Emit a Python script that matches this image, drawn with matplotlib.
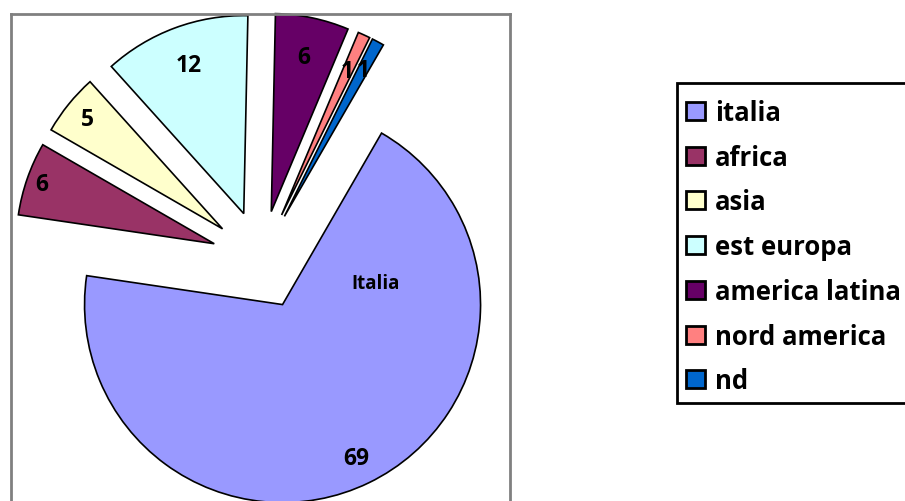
import numpy as np
import matplotlib.pyplot as plt
from matplotlib.patches import Patch, Rectangle

plt.rcParams['font.family'] = ['Open Sans', 'DejaVu Sans']

regions = ['italia', 'africa', 'asia', 'est europa', 'america latina', 'nord america', 'nd']
counts = [69, 6, 5, 12, 6, 1, 1]
colors = ['#9999FF', '#993366', '#FFFFCC', '#CCFFFF', '#660066', '#FF8080', '#0066CC']

# radial position of each value label (fraction of radius)
label_r = [0.86, 0.92, 0.88, 0.80, 0.80, 0.80, 0.84]

total = sum(counts)

fig = plt.figure(figsize=(9.05, 5.02), dpi=100)
W, H = 905, 502

# plot area with the grey frame (bottom runs off the canvas)
ax = fig.add_axes([11 / W, -2 / H, 499 / W, 489 / H])

wedges, _, autotexts = ax.pie(
    counts, colors=colors, startangle=60, counterclock=False,
    explode=[0.25] * len(counts), radius=1.0,
    autopct=lambda p: f'{p * total / 100:.0f}', pctdistance=0.85,
    wedgeprops=dict(edgecolor='black', linewidth=1.2),
    textprops=dict(fontsize=16.5, fontweight='bold', color='black'),
)

for w, t, r in zip(wedges, autotexts, label_r):
    ang = np.deg2rad((w.theta1 + w.theta2) / 2)
    x0, y0 = w.center
    t.set_position((x0 + r * w.r * np.cos(ang), y0 + r * w.r * np.sin(ang)))

# pixel scale: 198 px per unit radius, pie centre at (261, 261)
s = 198.0
ax.set_xlim((11 - 261) / s, (510 - 261) / s)
ax.set_ylim((261 - 504) / s, (261 - 15) / s)
ax.set_aspect('auto')
ax.set_frame_on(True)
ax.set_xticks([])
ax.set_yticks([])
for sp in ax.spines.values():
    sp.set_visible(True)
    sp.set_color('#808080')
    sp.set_linewidth(2)
ax.spines['bottom'].set_visible(False)

cx, cy = wedges[0].center
ax.text(cx + 0.47, cy + 0.11, 'Italia', fontsize=13.5, fontweight='bold',
        ha='center', va='center')

# legend box runs past the right edge of the canvas
fig.patches.append(Rectangle((677 / W, 1 - 404 / H), 240 / W, 320 / H,
                             transform=fig.transFigure, facecolor='white',
                             edgecolor='black', linewidth=2, zorder=0))

handles = [Patch(facecolor=c, edgecolor='black', linewidth=2) for c in colors]
leg = fig.legend(handles, regions, loc='upper left',
                 bbox_to_anchor=(686 / W, 1 - 100 / H),
                 prop=dict(size=18.5, weight='bold'),
                 handlelength=0.72, handleheight=0.7, handletextpad=0.42,
                 labelspacing=0.69, borderpad=0, borderaxespad=0,
                 frameon=False)

plt.savefig('out.png', dpi=100)
